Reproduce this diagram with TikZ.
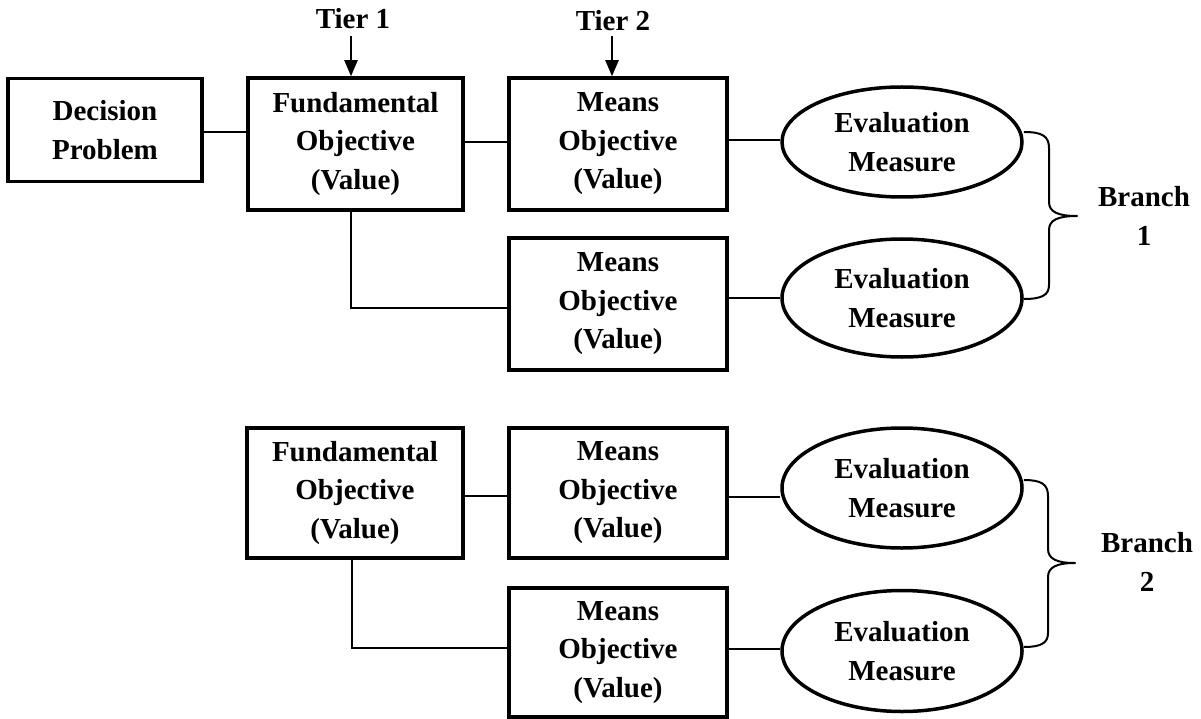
\documentclass[tikz,border=0pt]{standalone}
\usepackage{fontspec}
\setmainfont{Liberation Serif}
\usetikzlibrary{arrows.meta,shapes.geometric}

\tikzset{
  lbl/.style={font=\fontsize{29}{38.5}\selectfont\bfseries, align=center, inner sep=0pt},
  obox/.style={lbl, draw, line width=3.5pt, rectangle},
  oval/.style={lbl, draw, line width=3.5pt, ellipse, minimum width=240pt},
  link/.style={line width=2pt},
  tierarrow/.style={line width=2pt, -{Triangle[length=16pt,width=13pt]}},
  bracket/.style={line width=2pt, line join=round},
}

\begin{document}
\begin{tikzpicture}[x=1pt,y=-1pt]
\useasboundingbox (0,0) rectangle (1201,719);

% ---- first branch ----
\node[obox, minimum width=194pt, minimum height=103pt] (dec) at (105,130) {Decision\\Problem};
\node[obox, minimum width=215pt, minimum height=132pt] (fund1) at (355.5,144) {Fundamental\\Objective\\(Value)};
\node[obox, minimum width=218pt, minimum height=132pt] (means1) at (618,144) {Means\\Objective\\(Value)};
\node[obox, minimum width=218pt, minimum height=132pt] (means2) at (618,304) {Means\\Objective\\(Value)};
\node[oval, minimum height=110pt] (ell1) at (902,142) {Evaluation\\Measure};
\node[oval, minimum height=118pt] (ell2) at (902,298) {Evaluation\\Measure};

% tier labels
\node[lbl] (tier1) at (353,19) {Tier 1};
\node[lbl] (tier2) at (613,21) {Tier 2};
\coordinate (a1) at (351,36);
\coordinate (a2) at (612,36);
\draw[tierarrow] (a1) -- (a1 |- fund1.north);
\draw[tierarrow] (a2) -- (a2 |- means1.north);

% connectors
\draw[link] (dec.east |- 0,132) -- (fund1.west |- 0,132);
\draw[link] (fund1.east |- 0,142) -- (means1.west |- 0,142);
\draw[link] (means1.east |- 0,140) -- (ell1.west |- 0,140);
\draw[link] (fund1.south -| 351,0) |- (means2.west |- 0,308);
\draw[link] (means2.east |- 0,298) -- (ell2.west |- 0,298);

% brace and label
\coordinate (b1s) at (ell1.east |- 0,132);
\coordinate (b1e) at (ell2.east |- 0,299);
\draw[bracket] (b1s) .. controls (1042,132) and (1049,136) .. (1049,148)
  -- (1049,202) .. controls (1049,212) and (1058,216) .. (1077,216)
  .. controls (1058,216) and (1049,220) .. (1049,230)
  -- (1049,285) .. controls (1049,295) and (1042,299) .. (b1e);
\node[lbl] (br1) at (1144,216) {Branch\\1};

% ---- second branch ----
\node[obox, minimum width=216pt, minimum height=130pt] (fund2) at (355,493) {Fundamental\\Objective\\(Value)};
\node[obox, minimum width=218pt, minimum height=130pt] (means3) at (618,493) {Means\\Objective\\(Value)};
\node[obox, minimum width=218pt, minimum height=129pt] (means4) at (618,652.5) {Means\\Objective\\(Value)};
\node[oval, minimum height=120pt] (ell3) at (902,488) {Evaluation\\Measure};
\node[oval, minimum height=121pt] (ell4) at (902,651) {Evaluation\\Measure};

\draw[link] (fund2.east |- 0,496) -- (means3.west |- 0,496);
\draw[link] (means3.east |- 0,497) -- (ell3.west |- 0,497);
\draw[link] (fund2.south -| 352,0) |- (means4.west |- 0,648);
\draw[link] (means4.east |- 0,649) -- (ell4.west |- 0,649);

\coordinate (b2s) at (ell3.east |- 0,480);
\coordinate (b2e) at (ell4.east |- 0,647);
\draw[bracket] (b2s) .. controls (1041,480) and (1048,484) .. (1048,496)
  -- (1048,549) .. controls (1048,559) and (1057,563) .. (1075,563)
  .. controls (1057,563) and (1048,567) .. (1048,577)
  -- (1048,633) .. controls (1048,643) and (1041,647) .. (b2e);
\node[lbl] (br2) at (1147,562) {Branch\\2};
\end{tikzpicture}
\end{document}
